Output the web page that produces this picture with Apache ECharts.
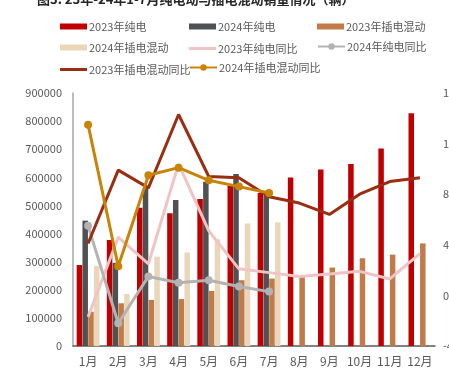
<!DOCTYPE html>
<html>
<head>
<meta charset="utf-8">
<script src="https://cdn.jsdelivr.net/npm/echarts@6/dist/echarts.min.js"></script>
<style>
  html, body { margin: 0; padding: 0; background: #fff; }
  #chart { width: 449px; height: 377px; }
</style>
</head>
<body>
<div id="chart"></div>
<script>
// 月份
const months = ['1月', '2月', '3月', '4月', '5月', '6月', '7月', '8月', '9月', '10月', '11月', '12月']

// 销量（辆）
const ev2023 = [288000, 377000, 492000, 472000, 523000, 570000, 544000, 599000, 628000, 647000, 703000, 828000]
const ev2024 = [446000, 296000, 561000, 519000, 584000, 612000, 537000]
const phev2023 = [122000, 152000, 164000, 167000, 196000, 234000, 240000, 245000, 279000, 312000, 325000, 365000]
const phev2024 = [285000, 185000, 318000, 333000, 380000, 436000, 440000]

// 同比（%）
const evYoy2023 = [-17, 46, 25, 104, 51, 21, 18, 15, 17, 19, 13, 33]
const evYoy2024 = [55, -22, 15, 10, 12, 7, 3]
const phevYoy2023 = [41, 99, 85, 143, 94, 93, 78, 73, 64, 80, 90, 93]
const phevYoy2024 = [135, 23, 95, 101, 91, 86, 81]

const FONT = '"Noto Sans CJK SC", "Noto Sans", sans-serif'
const TEXT = '#595959'

const chart = echarts.init(document.getElementById('chart'), null, { renderer: 'canvas' })

const barStyle = (name, color, data) => ({
  name,
  type: 'bar',
  data,
  barWidth: 5.5,
  barGap: '5%',
  itemStyle: { color },
})

const lineStyle = (name, color, data, withDot) => ({
  name,
  type: 'line',
  yAxisIndex: 1,
  data,
  symbol: withDot ? 'circle' : 'none',
  symbolSize: 8,
  showSymbol: withDot,
  lineStyle: { color, width: 3 },
  itemStyle: { color },
  z: 3,
})

// 图例按 3x3 排布，每项单独一个 legend；kind: bar / line / dot
const legendPos = [
  ['2023年纯电', 60, 21, 'bar'], ['2024年纯电', 189, 21, 'bar'], ['2023年插电混动', 317, 21, 'bar'],
  ['2024年插电混动', 60, 42, 'bar'], ['2023年纯电同比', 189, 42, 'line'], ['2024年纯电同比', 317, 42, 'dot'],
  ['2023年插电混动同比', 60, 63, 'line'], ['2024年插电混动同比', 189, 63, 'dot'],
]
const legends = legendPos.map(([name, left, top, kind]) => {
  const item = { name }
  if (kind !== 'dot') item.icon = 'rect'
  return {
    data: [item],
    left,
    top: kind === 'dot' ? top - 1 : top + (kind === 'line' ? 1 : 0),
    padding: 0,
    itemWidth: 27,
    itemHeight: kind === 'bar' ? 6 : kind === 'line' ? 3 : 8,
    selectedMode: false,
    textStyle: { color: TEXT, fontSize: 11, fontFamily: FONT, padding: [0, 0, 0, -3] },
  }
})

chart.setOption({
  animation: false,
  title: {
    text: '图3: 23年-24年1-7月纯电动与插电混动销量情况（辆）',
    left: 37,
    top: -7,
    padding: 0,
    textStyle: { fontSize: 13, fontWeight: 'bold', color: '#262626', fontFamily: FONT },
  },
  legend: legends,
  grid: { left: 73, right: 14, top: 93, bottom: 31, outerBoundsMode: 'none', containLabel: false },
  xAxis: {
    type: 'category',
    data: months,
    axisLine: { lineStyle: { color: '#595959', width: 1.5 } },
    axisTick: { show: false },
    axisLabel: { color: TEXT, fontSize: 12, fontFamily: FONT, margin: 9, interval: 0 },
  },
  yAxis: [
    {
      type: 'value',
      min: 0,
      max: 900000,
      interval: 100000,
      axisLine: { show: true, lineStyle: { color: '#a6a6a6', width: 1.5 } },
      axisTick: { show: false },
      splitLine: { show: false },
      axisLabel: { color: TEXT, fontSize: 11, fontFamily: FONT, margin: 11, formatter: (v) => String(v) },
    },
    {
      type: 'value',
      min: -40,
      max: 160,
      interval: 40,
      position: 'right',
      axisLine: { show: false },
      axisTick: { show: false },
      splitLine: { show: false },
      axisLabel: { color: TEXT, fontSize: 11, fontFamily: FONT, margin: 8, formatter: '{value}%' },
    },
  ],
  series: [
    barStyle('2023年纯电', '#c00000', ev2023),
    barStyle('2024年纯电', '#4f5153', ev2024),
    barStyle('2023年插电混动', '#c07b48', phev2023),
    barStyle('2024年插电混动', '#ead6b8', phev2024),
    lineStyle('2023年纯电同比', '#f0c4c4', evYoy2023, false),
    lineStyle('2024年纯电同比', '#b3b3b3', evYoy2024, true),
    lineStyle('2023年插电混动同比', '#992e12', phevYoy2023, false),
    lineStyle('2024年插电混动同比', '#c98308', phevYoy2024, true),
  ],
})
</script>
</body>
</html>
